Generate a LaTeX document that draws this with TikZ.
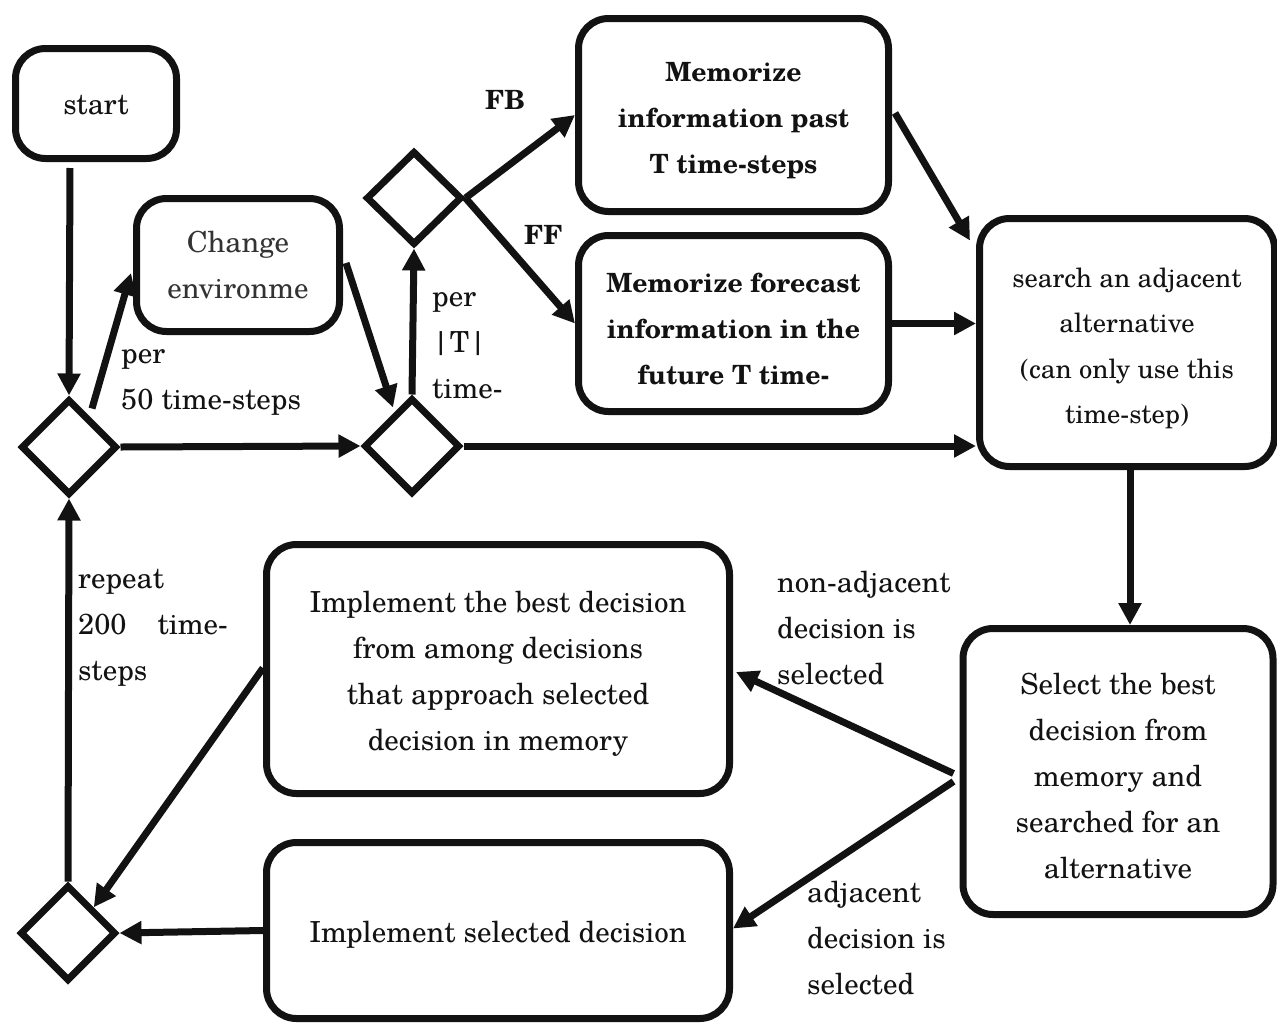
\documentclass[tikz,border=0pt]{standalone}
\usepackage{fontspec}
\setmainfont{TeX Gyre Schola}
\usetikzlibrary{shapes.geometric,arrows.meta,calc}
\newcommand{\tpstrut}{\rule{0pt}{31pt}}
\begin{document}
\begin{tikzpicture}[x=1pt,y=-1pt,
  box/.style={draw=black!93, line width=7pt, rounded corners=30pt, align=center, inner sep=0pt, text=black!93},
  dia/.style={draw=black!93, diamond, line width=7pt, minimum width=96pt, minimum height=96pt, inner sep=0pt},
  arr/.style={draw=black!93, line width=7pt, -{Triangle[length=22pt,width=22pt]}},
  lbl/.style={anchor=west, align=left, inner sep=0pt, text=black!93},
  boldtext/.style={font=\fontsize{26.5}{46}\selectfont\bfseries},
  every node/.style={font=\fontsize{29}{46}\selectfont}
]
\useasboundingbox (0,0) rectangle (1277,1026);

% boxes
\node[box, minimum width=161pt, minimum height=110pt] (start) at (96,103.5) {\rule{0pt}{22pt}start};
\node[box, minimum width=203pt, minimum height=133pt, text=black!80] (change) at (238,265) {Change\\environme};
\node[box, boldtext, minimum width=310pt, minimum height=193pt] (past) at (733.5,115) {\tpstrut Memorize\\information past\\T time-steps};
\node[box, boldtext, minimum width=310pt, minimum height=176pt] (fore) at (733.5,323.5) {\tpstrut Memorize forecast\\information in the\\future T time-};
\node[box, minimum width=295pt, minimum height=248pt, font=\fontsize{26.5}{45.5}\selectfont] (search) at (1127,342.5) {\tpstrut search an adjacent\\alternative\\(can only use this\\time-step)};
\node[box, minimum width=310pt, minimum height=286pt] (select) at (1118,771.5) {\tpstrut Select the best\\decision from\\memory and\\searched for an\\alternative};
\node[box, minimum width=463pt, minimum height=249pt] (best) at (498,669) {\tpstrut Implement the best decision\\from among decisions\\that approach selected\\decision in memory};
\node[box, minimum width=463pt, minimum height=176pt] (impl) at (498,930.5) {\rule{0pt}{30pt}Implement selected decision};

% diamonds
\node[dia] (d1) at (69,447) {};
\node[dia] (d2) at (412,446) {};
\node[dia, minimum height=94pt] (d3) at (414,198) {};
\node[dia] (d4) at (68,933) {};

% helper coordinates
\coordinate (sa) at ($(search.south)+(3,0)$);

% connectors
\draw[arr] ($(start.south)+(-26,6)$) -- (d1.north);
\draw[arr] ($(d1.north)+(23,13)$) -- ($(change.west)+(-2,8)$);
\draw[arr] ($(change.east)+(3,-2)$) -- ($(d2.north)+(-19,13)$);
\draw[arr] (d1.east) -- (d2.west);
\draw[arr] (d2.north) -- (d3.south);
\draw[arr] (d2.east) -- (search.west |- d2.east);
\draw[arr] (d3.east) -- (past.west);
\draw[arr] (d3.east) -- (fore.west);
\draw[arr] ($(past.east)+(3,-2)$) -- ($(search.west)+(-6,-102)$);
\draw[arr] (fore.east) -- (search.west |- fore.east);
\draw[arr] (sa) -- (sa |- select.north);
\draw[arr] ($(select.west)+(-6,2)$) -- ($(best.east)+(3,3)$);
\draw[arr] ($(select.west)+(-6,10)$) -- ($(impl.east)+(0,-2)$);
\draw[arr] ($(best.west)+(0,-1)$) -- ($(d4.north)!0.5!(d4.east)$);
\draw[arr] (impl.west) -- (d4.east);
\draw[arr] (d4.north) -- (d1.south);

% labels
\node[lbl] (l50) at (121,382) {per\\50 time-steps};
\node[lbl] (lT) at (432,346) {per\\|T|\\time-};
\node[lbl, boldtext] (lFB) at (485,100) {FB};
\node[lbl, boldtext] (lFF) at (524,235) {FF};
\node[lbl] (lrep) at (78,628) {repeat\\200\hspace{31pt}time-\\steps};
\node[lbl] (lnon) at (777,628) {non-adjacent\\decision is\\selected};
\node[lbl] (ladj) at (807,938) {adjacent\\decision is\\selected};
\end{tikzpicture}
\end{document}
